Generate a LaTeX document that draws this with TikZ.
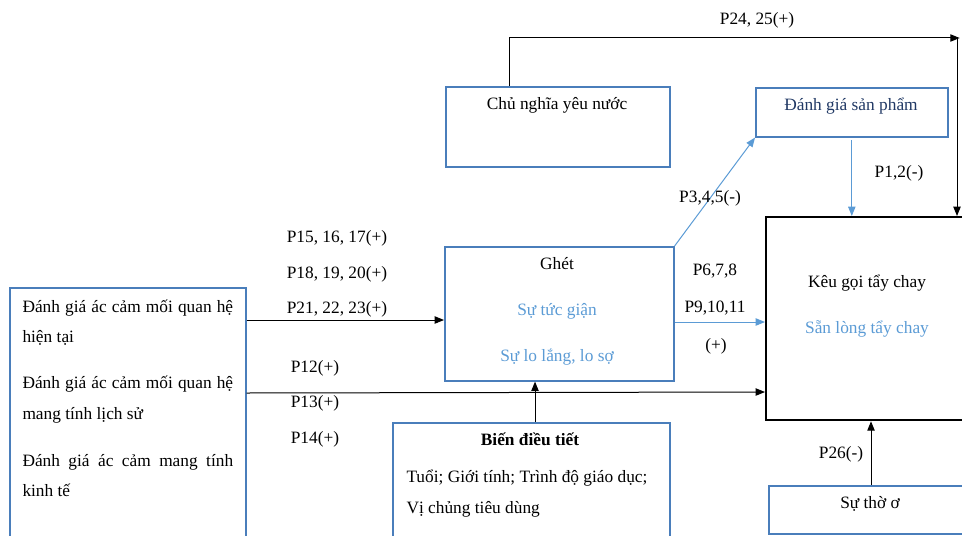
\documentclass[tikz,border=0pt]{standalone}
\usepackage{fontspec}
\setmainfont{Liberation Serif}
\usetikzlibrary{arrows.meta,calc}
\definecolor{boxblue}{HTML}{4A7EBB}
\definecolor{lightblue}{HTML}{5B9BD5}
\definecolor{darkblue}{HTML}{203864}
\tikzset{
	% ---- default
	every node/.style={font=\fontsize{13pt}{15pt}\selectfont, inner sep=0pt},
	% ---- custom
	box/.style={draw=boxblue, line width=1.2pt, rectangle, anchor=north west},
	mainbox/.style={draw=black, line width=1.7pt, rectangle, anchor=north west},
	link/.style={-{Triangle[length=7pt,width=5.5pt]}, black},
	lightlink/.style={-{Triangle[length=7pt,width=5.5pt]}, lightblue},
	plabel/.style={anchor=base},
	lighttext/.style={anchor=base, text=lightblue},
	linetext/.style={anchor=base west},
}

\begin{document}
\begin{tikzpicture}[x=0.75pt, y=-0.75pt, line width=0.75pt]

% frame %{{{2

	\useasboundingbox (0,0) rectangle (962,535);
	\clip (0,0) rectangle (962,535);

% boxes %{{{2

	\node[box, minimum width=236*0.75pt, minimum height=270*0.75pt] (current) at (9,287) {};
	\node[box, minimum width=224*0.75pt, minimum height=80*0.75pt] (patriot) at (445,86) {};
	\node[box, minimum width=192*0.75pt, minimum height=49*0.75pt] (product) at (755,87) {};
	\node[box, minimum width=229*0.75pt, minimum height=134*0.75pt] (ghet) at (444,246) {};
	\node[mainbox, minimum width=220*0.75pt, minimum height=203*0.75pt] (boycott) at (765,216) {};
	\node[box, minimum width=277*0.75pt, minimum height=140*0.75pt] (moderator) at (392,422) {};
	\node[box, minimum width=220*0.75pt, minimum height=48*0.75pt] (apathy) at (768,485) {};

% box texts %{{{2

	\node[linetext] (cur1) at (22,312) {\makebox[158pt][s]{Đánh giá ác cảm mối quan hệ}};
	\node[linetext] (cur2) at (22,342) {hiện tại};
	\node[linetext] (cur3) at (22,388) {\makebox[158pt][s]{Đánh giá ác cảm mối quan hệ}};
	\node[linetext] (cur4) at (22,419) {mang tính lịch sử};
	\node[linetext] (cur5) at (22,466) {\makebox[158pt][s]{Đánh giá ác cảm mang tính}};
	\node[linetext] (cur6) at (22,496) {kinh tế};

	\node[plabel] (patriottext) at (557,109) {Chủ nghĩa yêu nước};
	\node[plabel, text=darkblue] (producttext) at (851,110) {Đánh giá sản phẩm};

	\node[plabel] (ghettext) at (557,269) {Ghét};
	\node[lighttext] (anger) at (557,315) {Sự tức giận};
	\node[lighttext] (fear) at (557,361) {Sự lo lắng, lo sợ};

	\node[plabel] (boycotttext) at (867,287) {Kêu gọi tẩy chay};
	\node[lighttext] (willing) at (867,333) {Sẵn lòng tẩy chay};

	\node[plabel, font=\fontsize{13pt}{15pt}\selectfont\bfseries] (moderatortext) at (530,445) {Biến điều tiết};
	\node[linetext] (mod1) at (406,482) {Tuổi; Giới tính; Trình độ giáo dục;};
	\node[linetext] (mod2) at (406,513) {Vị chủng tiêu dùng};

	\node[plabel] (apathytext) at (870,508) {Sự thờ ơ};

% connectors %{{{2

	\coordinate (corner) at (957,38);
	\coordinate (patriottop) at ($(patriot.north west)!0.286!(patriot.north east)$);
	\draw[link] (patriottop) |- ([xshift=2pt]corner);
	\draw[link] (corner) -- (corner |- boycott.north);

	\draw[lightlink, shorten <=2pt] (product.south) -- (product.south |- boycott.north);
	\draw[lightlink] (ghet.north east) -- (product.south west);
	\draw[lightlink] (ghet.east |- 0,322) -- (boycott.west |- 0,322);

	\draw[link] (current.east |- 0,320) -- (ghet.west |- 0,320);
	\draw[link] (current.east |- 0,393) -- (boycott.west |- 0,392);

	\draw[link] (moderator.north -| 535,0) -- (ghet.south -| 535,0);
	\draw[link] (apathy.north -| 871,0) -- (boycott.south -| 871,0);

% connector labels %{{{2

	\node[plabel] (p24) at (757,25) {P24, 25(+)};
	\node[plabel] (p1) at (899,177) {P1,2(-)};
	\node[plabel] (p3) at (710,202) {P3,4,5(-)};

	\node[plabel] (p6) at (715,275) {P6,7,8};
	\node[plabel] (p9) at (715,312) {P9,10,11};
	\node[plabel] (pplus) at (716,350) {(+)};

	\node[plabel] (p15) at (337,242) {P15, 16, 17(+)};
	\node[plabel] (p18) at (337,278) {P18, 19, 20(+)};
	\node[plabel] (p21) at (337,313) {P21, 22, 23(+)};

	\node[plabel] (p12) at (315,372) {P12(+)};
	\node[plabel] (p13) at (315,407) {P13(+)};
	\node[plabel] (p14) at (315,443) {P14(+)};

	\node[plabel] (p26) at (841,458) {P26(-)};

% closing %{{{2

\end{tikzpicture}
\end{document}
